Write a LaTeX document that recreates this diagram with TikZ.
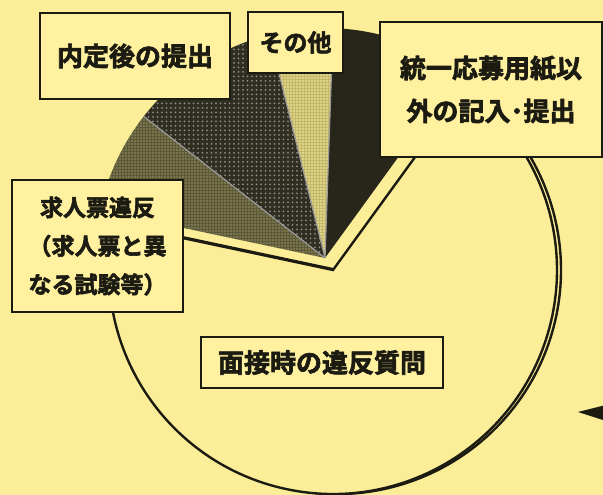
\documentclass[tikz,border=0pt]{standalone}
\usepackage{fontspec}
\newfontfamily\jpfont{Noto Sans CJK JP}[BoldFont={* Bold}, BoldFeatures={FakeBold=2.5}]
\usetikzlibrary{patterns.meta}
\definecolor{bgyellow}{RGB}{252,238,152}
\definecolor{boxyellow}{RGB}{255,241,160}
\definecolor{inkblack}{RGB}{28,27,18}
\definecolor{darkslice}{RGB}{40,38,26}
\definecolor{dotslice}{RGB}{48,46,32}
\definecolor{olive}{RGB}{92,88,58}
\definecolor{lightslice}{RGB}{196,184,108}
\tikzset{
  tagbox/.style={draw=inkblack, line width=1.8pt, fill=boxyellow, inner sep=0pt, align=center, text=inkblack, font=\jpfont\bfseries\fontsize{26}{43}\selectfont},
  sep/.style={draw=black!40, line width=1.2pt}
}
\begin{document}
\begin{tikzpicture}[x=1pt, y=1pt]
    \useasboundingbox (0,0) rectangle (603,495);
    \fill[bgyellow] (0,0) rectangle (603,495);

    \coordinate (O) at (325,237);
    \fill[darkslice] (O) -- ++(54:230) arc[start angle=54, end angle=88, radius=230] -- cycle;
    \fill[lightslice] (O) -- ++(88:230) arc[start angle=88, end angle=104, radius=230] -- cycle;
    \fill[pattern={Dots[distance=3pt, radius=0.9pt]}, pattern color=bgyellow!90!white] (O) -- ++(88:230) arc[start angle=88, end angle=104, radius=230] -- cycle;
    \fill[dotslice] (O) -- ++(104:230) arc[start angle=104, end angle=142, radius=230] -- cycle;
    \fill[pattern={Dots[distance=4.5pt, radius=1pt]}, pattern color=black!45] (O) -- ++(104:230) arc[start angle=104, end angle=142, radius=230] -- cycle;
    \fill[olive] (O) -- ++(142:230) arc[start angle=142, end angle=168, radius=230] -- cycle;
    \fill[pattern={Dots[distance=3pt, radius=0.8pt]}, pattern color=olive!60!bgyellow] (O) -- ++(142:230) arc[start angle=142, end angle=168, radius=230] -- cycle;
    \draw[sep] (O) -- ++(88:230);
    \draw[sep] (O) -- ++(104:230);
    \draw[sep] (O) -- ++(142:230);

    \coordinate (B) at (333,225);
    \coordinate (Bs) at (337,225);
    \filldraw[fill=bgyellow, draw=inkblack, line width=2.4pt] (Bs) -- ++(168:224) arc[start angle=168, end angle=414, radius=224] -- cycle;
    \filldraw[fill=bgyellow, draw=inkblack, line width=2.4pt] (B) -- ++(168:224) arc[start angle=168, end angle=414, radius=224] -- cycle;

    \node [tagbox, minimum width=190, minimum height=86] (teishutsu) at (135,439) {内定後の提出};
    \node [tagbox, minimum width=95, minimum height=61, font=\jpfont\bfseries\fontsize{24}{30}\selectfont] (sonota) at (295.5,452.5) {その他};
    \node [tagbox, minimum width=222, minimum height=135] (youshi) at (491,405.5) {統一応募用紙以\\外の記入･提出};
    \node [tagbox, minimum width=171, minimum height=132, font=\jpfont\bfseries\fontsize{23}{38.5}\selectfont] (kyujin) at (97.5,249) {求人票違反\\（求人票と異\\なる試験等）};
    \node [tagbox, minimum width=242, minimum height=51] (mensetsu) at (322,132.5) {面接時の違反質問};

    \fill[inkblack] (578,83) -- (606,90) -- (606,74) -- cycle;
\end{tikzpicture}
\end{document}
